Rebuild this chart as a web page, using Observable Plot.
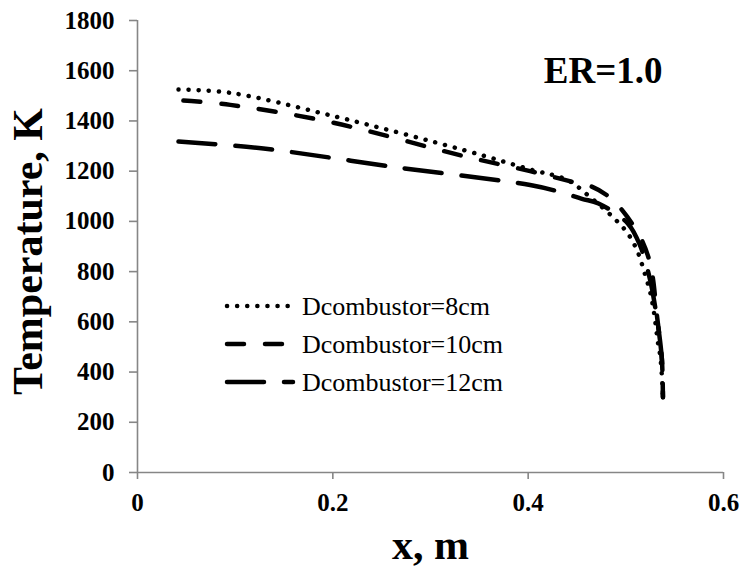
<!DOCTYPE html>
<html><head><meta charset="utf-8">
<script src="https://cdn.jsdelivr.net/npm/d3@7"></script>
<script src="https://cdn.jsdelivr.net/npm/@observablehq/plot@0.6"></script>
<style>
body{margin:0;background:#fff}
#wrap{position:relative;width:743px;height:574px}
#legend{position:absolute;left:0;top:0;pointer-events:none}
</style>
</head><body><div id="wrap"></div>
<script>
// Series names
const seriesNames = ["Dcombustor=8cm","Dcombustor=10cm","Dcombustor=12cm"];
// Dcombustor = 8 cm
const x8 = [0.042,0.095,0.198,0.334,0.402,0.440,0.464,0.487,0.502,0.512,0.519,0.525,0.529,0.533,0.535,0.537,0.538];
const t8 = [1525,1512,1422,1284,1207,1165,1095,1016,952,880,797,717,633,514,470,380,300];
// Dcombustor = 10 cm
const x10 = [0.047,0.095,0.198,0.334,0.402,0.446,0.464,0.481,0.494,0.515,0.525,0.528,0.532,0.535,0.537,0.538];
const t10 = [1481,1464,1395,1260,1200,1157,1140,1103,1055,936,832,765,620,526,446,300];
// Dcombustor = 12 cm
const x12 = [0.042,0.129,0.266,0.402,0.430,0.455,0.472,0.502,0.515,0.525,0.530,0.535,0.537,0.538];
const t12 = [1318,1290,1215,1145,1120,1090,1071,992,900,765,660,526,446,300];
// Ticks
const xTicks = [0, 0.2, 0.4, 0.6];
const yTicks = [0,200,400,600,800,1000,1200,1400,1600,1800];
const annotation = "ER=1.0";
const xLabel = "x, m";
const yLabel = "Temperature, K";

const dashes = ["0.1 10", "17 21", "37 20"];
const serif = "'Liberation Serif','Times New Roman',serif";
const axisGray = "#868686";

const rows = (xs, ts, name) => xs.map((x, i) => ({x, t: ts[i], series: name}));
const data = [rows(x8,t8,seriesNames[0]), rows(x10,t10,seriesNames[1]), rows(x12,t12,seriesNames[2])];

const chart = Plot.plot({
  width: 743, height: 574,
  marginLeft: 137, marginRight: 20, marginTop: 20, marginBottom: 102,
  style: {fontFamily: serif, background: "#fff", color: "black"},
  x: {domain: [0, 0.6]},
  y: {domain: [0, 1800]},
  marks: [
    Plot.axisX({ticks: xTicks, tickSize: 7, tickPadding: 14, stroke: axisGray, strokeWidth: 1.6,
      fill: "black", fontSize: 25, fontWeight: "bold", label: null, tickFormat: d => String(d)}),
    Plot.axisY({ticks: yTicks, tickSize: 8, tickPadding: 15, stroke: axisGray, strokeWidth: 1.6,
      fill: "black", fontSize: 25, fontWeight: "bold", label: null, tickFormat: d => String(d)}),
    Plot.ruleX([0], {stroke: axisGray, strokeWidth: 1.6}),
    Plot.ruleY([0], {stroke: axisGray, strokeWidth: 1.6}),
    ...data.map((d, i) => Plot.line(d, {x: "x", y: "t", stroke: "black", strokeWidth: 4.5,
      strokeLinecap: "round", strokeDasharray: dashes[i], curve: "catmull-rom"})),
    Plot.text([yLabel], {frameAnchor: "left", textAnchor: "middle", lineAnchor: "middle", rotate: -90, dx: -109, dy: 5, fontSize: 42, fontWeight: "bold", fill: "black"}),
    Plot.text([xLabel], {frameAnchor: "bottom", lineAnchor: "middle", dy: 73, fontSize: 42, fontWeight: "bold", fill: "black"}),
    Plot.text([annotation], {frameAnchor: "top-right", textAnchor: "end", lineAnchor: "middle", dx: -61, dy: 51, fontSize: 37, fontWeight: "bold", fill: "black"})
  ]
});
const wrap = document.getElementById("wrap");
wrap.appendChild(chart);

// Legend overlay
const leg = d3.select(wrap).append("svg").attr("id","legend").attr("width",743).attr("height",574);
const legX0 = 227, legX1 = 293, legY0 = 306, legStep = 38;
seriesNames.forEach((name, i) => {
  const y = legY0 + i * legStep;
  leg.append("line").attr("x1", legX0).attr("x2", legX1).attr("y1", y).attr("y2", y)
    .attr("stroke","black").attr("stroke-width",4.5).attr("stroke-linecap","round")
    .attr("stroke-dasharray", dashes[i]);
  leg.append("text").attr("x", legX1 + 9).attr("y", y).attr("dy","0.35em")
    .attr("font-family", serif).attr("font-size", 26).attr("fill","black").text(name);
});
</script>
</body></html>
